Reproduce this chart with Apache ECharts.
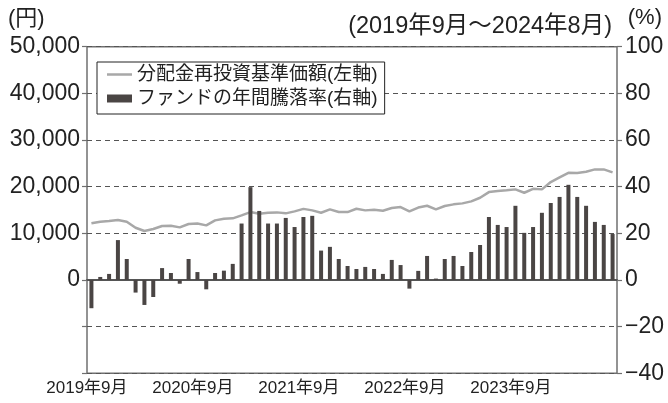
<!DOCTYPE html>
<html>
<head>
<meta charset="utf-8">
<script src="https://cdn.jsdelivr.net/npm/echarts@6/dist/echarts.min.js"></script>
<style>html,body{margin:0;padding:0;background:#fff}#c{width:668px;height:403px}</style>
</head>
<body>
<div id="c"></div>
<script>
// Months: 2019年9月 .. 2024年8月
const categories = [];
for (let i = 0; i < 60; i++) {
  const m = (8 + i) % 12 + 1;
  const y = 2019 + Math.floor((8 + i) / 12);
  categories.push(y + '年' + m + '月');
}
// 分配金再投資基準価額 (円, left axis)
const navValues = [
  12140, 12490, 12630, 12850, 12490, 11200, 10490, 10920, 11560, 11630, 11280, 11990,
  12100, 11710, 12780, 13130, 13210, 13850, 14560, 14200, 14410, 14490, 14280, 14710,
  15240, 14920, 14410, 15130, 14560, 14560, 15270, 14920, 15060, 14850, 15420, 15630,
  14710, 15530, 15910, 15130, 15850, 16210, 16420, 16850, 17620, 18840, 19060, 19210,
  19420, 18700, 19550, 19420, 20990, 21990, 22980, 22910, 23190, 23700, 23700, 23060
];
// ファンドの年間騰落率 (%, right axis)
const returnValues = [
  -12.1, 1.3, 2.6, 17.1, 9.0, -5.4, -10.7, -7.3, 5.1, 3.0, -1.6, 9.0,
  3.4, -4.0, 3.0, 4.0, 6.9, 24.2, 39.8, 29.6, 24.2, 24.2, 26.6, 22.7,
  27.0, 27.5, 12.6, 14.2, 9.0, 6.0, 4.7, 5.6, 4.7, 2.6, 8.6, 6.4,
  -3.7, 3.9, 10.3, 0.6, 9.0, 10.3, 6.0, 12.0, 15.0, 27.0, 23.6, 22.7,
  31.8, 20.2, 22.7, 28.8, 33.0, 35.6, 40.8, 35.6, 31.8, 24.9, 23.6, 19.7
];
const seriesNames = ['分配金再投資基準価額(左軸)', 'ファンドの年間騰落率(右軸)'];
const leftUnit = '(円)';
const rightUnit = '(%)';
const periodText = '(2019年9月〜2024年8月)';

const FONT = '"Liberation Sans", "Noto Sans CJK JP", sans-serif';
const LINE_ICON = 'path://M0,0 L0.01,0 M0,2.8 L25,2.8 L25,5.2 L0,5.2 Z M25,8 L24.99,8';
const chart = echarts.init(document.getElementById('c'), null, {renderer: 'canvas'});
chart.setOption({
  animation: false,
  backgroundColor: '#fff',
  textStyle: {fontFamily: FONT, color: '#222'},
  grid: {left: 87, right: 51, top: 46.7, bottom: 29.7, show: true, borderColor: '#707070', borderWidth: 1.5, containLabel: false},
  legend: {
    orient: 'vertical', left: 97, top: 62,
    padding: [3, 7, 6, 10], itemGap: 5,
    itemWidth: 25, itemHeight: 8,
    borderColor: '#222', borderWidth: 1, backgroundColor: '#fff',
    textStyle: {fontFamily: FONT, fontSize: 19, color: '#222'},
    data: [
      {name: seriesNames[0], icon: LINE_ICON, itemStyle: {color: '#a8a8a8', borderWidth: 0}},
      {name: seriesNames[1], icon: 'rect'}
    ]
  },
  graphic: [
    {type: 'text', left: 8, top: 8, style: {text: leftUnit, font: '22px ' + FONT, fill: '#222'}},
    {type: 'text', right: 56, top: 15, style: {text: periodText, font: '23.5px ' + FONT, fill: '#222'}},
    {type: 'text', right: 6, top: 7, style: {text: rightUnit, font: '22px ' + FONT, fill: '#222'}}
  ],
  xAxis: {
    type: 'category', data: categories,
    axisLine: {onZero: true, lineStyle: {color: '#555', width: 2}},
    axisTick: {show: false},
    axisLabel: {interval: 11, fontSize: 17, color: '#222', margin: 7, padding: [0, 9, 0, 0], fontFamily: FONT}
  },
  yAxis: [
    {
      type: 'value', min: -20000, max: 50000, interval: 10000, position: 'left',
      axisLine: {show: false},
      axisTick: {show: true, length: 5, lineStyle: {color: '#707070', width: 1.2}},
      splitLine: {show: false},
      axisLabel: {fontSize: 23, color: '#222', margin: 7, fontFamily: FONT,
        formatter: v => v < 0 ? '' : v.toLocaleString('en-US')}
    },
    {
      type: 'value', min: -40, max: 100, interval: 20, position: 'right',
      axisLine: {show: false},
      axisTick: {show: true, length: 5, lineStyle: {color: '#707070', width: 1.2}},
      splitLine: {show: true, lineStyle: {color: '#555', width: 1.2, type: [5, 4]}},
      axisLabel: {fontSize: 23, color: '#222', margin: 8, fontFamily: FONT,
        formatter: v => String(v).replace('-', '\u2212')}
    }
  ],
  series: [
    {
      name: seriesNames[0], type: 'line', yAxisIndex: 0, data: navValues,
      symbol: 'none', showSymbol: false, z: 2,
      lineStyle: {color: '#a8a8a8', width: 2.5}, itemStyle: {color: '#a8a8a8'}
    },
    {
      name: seriesNames[1], type: 'bar', yAxisIndex: 1, data: returnValues,
      barWidth: 4, z: 3,
      itemStyle: {color: '#4a4544'}
    }
  ]
});
</script>
</body>
</html>
